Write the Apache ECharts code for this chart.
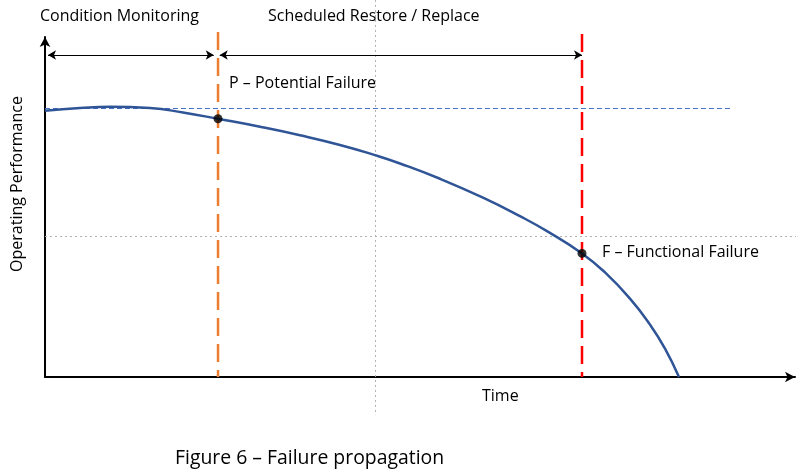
<!DOCTYPE html>
<html>
<head>
    <meta charset="utf-8">
    <title>Failure propagation</title>
    <script src="https://cdn.jsdelivr.net/npm/echarts@6/dist/echarts.min.js"></script>
</head>
<body style="margin:0">
    <div id="main" style="width:810px;height:472px;"></div>
    <script type="text/javascript">
        // performance curve, time 0..100, performance 0..100
        var curveTime = [0, 4.67, 8.67, 14, 18.4, 23.07, 28.67, 34, 39.33, 44, 47.33, 52.67, 58.4, 63.33, 66.93, 71.6, 74.67, 78, 80.67, 82.67, 84.53];
        var curvePerf = [78.3, 79.1, 79.47, 79.1, 77.8, 75.94, 73.6, 71.1, 68.25, 65.25, 62.8, 58.3, 52.75, 47.3, 42.9, 36.35, 30.75, 23.05, 15.4, 8.35, 0];

        var pPoint = [23.07, 75.94];   // potential failure
        var fPoint = [71.6, 36.35];    // functional failure
        var nominalPerf = 78.97;       // blue dashed reference level
        var thresholdPerf = 41.32;     // grey dotted level
        var midTime = 44.07;           // grey dotted time
        var arrowLevel = 94.7;

        var chart = echarts.init(document.getElementById('main'));
        var font = '"Open Sans", sans-serif';

        var curveData = [];
        for (var i = 0; i < curveTime.length; i++) {
            curveData.push([curveTime[i], curvePerf[i]]);
        }

        function guide(data, color, width, type) {
            return {
                type: 'line',
                data: data,
                clip: false,
                silent: true,
                showSymbol: false,
                symbol: 'none',
                lineStyle: {color: color, width: width, type: type},
                z: 2
            };
        }

        function label(text, x, y, size) {
            return {
                type: 'text', x: x, y: y,
                style: {text: text, font: (size || 16) + 'px ' + font, fill: '#000', verticalAlign: 'middle'}
            };
        }

        var axisCommon = {
            type: 'value',
            min: 0,
            max: 100,
            axisLine: {
                show: true,
                symbol: ['none', 'arrow'],
                symbolSize: [8, 10],
                lineStyle: {color: '#000', width: 2}
            },
            axisTick: {show: false},
            axisLabel: {show: false},
            splitLine: {show: false}
        };

        var option = {
            animation: false,
            grid: {left: 45, top: 37, width: 750, height: 340},
            xAxis: axisCommon,
            yAxis: axisCommon,
            series: [
                guide([[midTime, 110.9], [midTime, -11.2]], '#b0b0b0', 1, [2, 3]),
                guide([[-6, thresholdPerf], [102, thresholdPerf]], '#b0b0b0', 1, [2, 3]),
                guide([[0, nominalPerf], [91.7, nominalPerf]], '#4472C4', 1, [5, 3]),
                guide([[pPoint[0], 101.5], [pPoint[0], 0]], '#ED7D31', 2.5, [18, 8]),
                guide([[fPoint[0], 100.9], [fPoint[0], 0]], '#FF0000', 2.5, [18, 8]),
                {
                    type: 'line',
                    data: curveData,
                    smooth: true,
                    showSymbol: false,
                    symbol: 'none',
                    lineStyle: {color: '#2F5597', width: 2.5},
                    z: 5,
                    markLine: {
                        silent: true,
                        symbol: ['arrow', 'arrow'],
                        symbolSize: [7, 8],
                        label: {show: false},
                        lineStyle: {color: '#000', width: 1, type: 'solid'},
                        data: [
                            [{coord: [0.4, arrowLevel]}, {coord: [22.5, arrowLevel]}],
                            [{coord: [23.3, arrowLevel]}, {coord: [71.6, arrowLevel]}]
                        ]
                    }
                },
                {
                    type: 'scatter',
                    data: [pPoint, fPoint],
                    symbolSize: 9,
                    itemStyle: {color: '#000'},
                    z: 6
                }
            ],
            graphic: [
                label('Condition Monitoring', 40, 16),
                label('Scheduled Restore / Replace', 268, 16),
                label('P \u2013 Potential Failure', 229, 83),
                label('F \u2013 Functional Failure', 602, 252),
                label('Time', 482, 396),
                label('Figure 6 \u2013 Failure propagation', 175, 458, 19.4),
                {
                    type: 'text',
                    x: 17,
                    y: 184,
                    rotation: Math.PI / 2,
                    style: {text: 'Operating Performance', font: '16px ' + font, fill: '#000', align: 'center', verticalAlign: 'middle'}
                }
            ]
        };

        chart.setOption(option);
    </script>
</body>
</html>
